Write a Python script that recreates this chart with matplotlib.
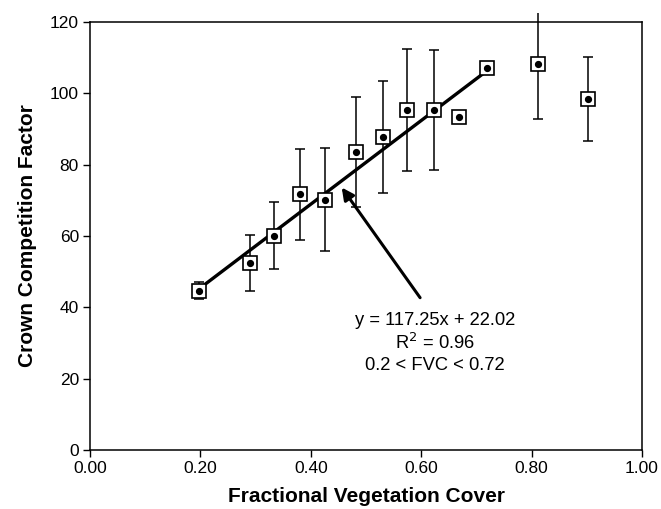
"""Crown competition factor vs fractional vegetation cover"""
import matplotlib
matplotlib.use("Agg")
import matplotlib.pyplot as plt
import numpy as np
from matplotlib.patches import Rectangle

plt.rcParams['font.family'] = ['Liberation Sans', 'DejaVu Sans']

# data
fvc = [0.197, 0.289, 0.333, 0.381, 0.426, 0.482, 0.530, 0.575, 0.624, 0.669, 0.719, 0.811, 0.903]
ccf = [44.6, 52.5, 60.1, 71.7, 70.2, 83.6, 87.7, 95.3, 95.3, 93.4, 107.0, 108.3, 98.4]
ccf_err = [2.4, 7.9, 9.4, 12.8, 14.5, 15.4, 15.7, 17.0, 16.8, 0.0, 0.0, 15.5, 11.7]

# trend line as given on the chart
slope, intercept = 117.25, 22.02
fit_range = [0.2, 0.72]

fig = plt.figure(figsize=(6.61, 5.09), dpi=100)
ax = fig.add_axes([90 / 661, 59 / 509, 552 / 661, 428 / 509])

eb = ax.errorbar(fvc, ccf, yerr=ccf_err, fmt='none', ecolor='black',
                 elinewidth=1.1, capsize=3.3, capthick=1.1, zorder=2)
# let bars run a little past the top of the frame, like the original
clip = Rectangle((0, 0), 1, 1.02, transform=ax.transAxes)
for art in list(eb.lines[1]) + list(eb.lines[2]):
    art.set_clip_path(clip)

fx = np.array(fit_range)
ax.plot(fx, slope * fx + intercept, color='black', lw=2.4, zorder=3)

ax.plot(fvc, ccf, ls='none', marker='s', ms=9.5, mfc='white', mec='black',
        mew=1.2, zorder=4)
ax.plot(fvc, ccf, ls='none', marker='o', ms=4.2, color='black', zorder=5)

ax.annotate('', xy=(0.456, 73.6), xytext=(0.598, 42.7),
            arrowprops=dict(arrowstyle='-|>', color='black', lw=2.2,
                            mutation_scale=18, shrinkA=0, shrinkB=0))
ax.text(0.625, 36.4, 'y = 117.25x + 22.02', ha='center', va='center', fontsize=13.2)
ax.text(0.625, 30.0, 'R$^2$ = 0.96', ha='center', va='center', fontsize=13.2)
ax.text(0.625, 23.7, '0.2 < FVC < 0.72', ha='center', va='center', fontsize=13.2)

ax.set_xlim(0, 1)
ax.set_ylim(0, 120)
ax.set_xticks(np.arange(0, 1.01, 0.2))
ax.set_xticklabels([f"{v:.2f}" for v in np.arange(0, 1.01, 0.2)])
ax.set_yticks(range(0, 121, 20))
ax.tick_params(direction='out', length=5, width=1, labelsize=12.5, pad=3)
for s in ax.spines.values():
    s.set_linewidth(1.1)

ax.set_xlabel('Fractional Vegetation Cover', fontsize=15, fontweight='bold', labelpad=8)
ax.set_ylabel('Crown Competition Factor', fontsize=15, fontweight='bold', labelpad=9)

fig.savefig('out.png', dpi=100)
